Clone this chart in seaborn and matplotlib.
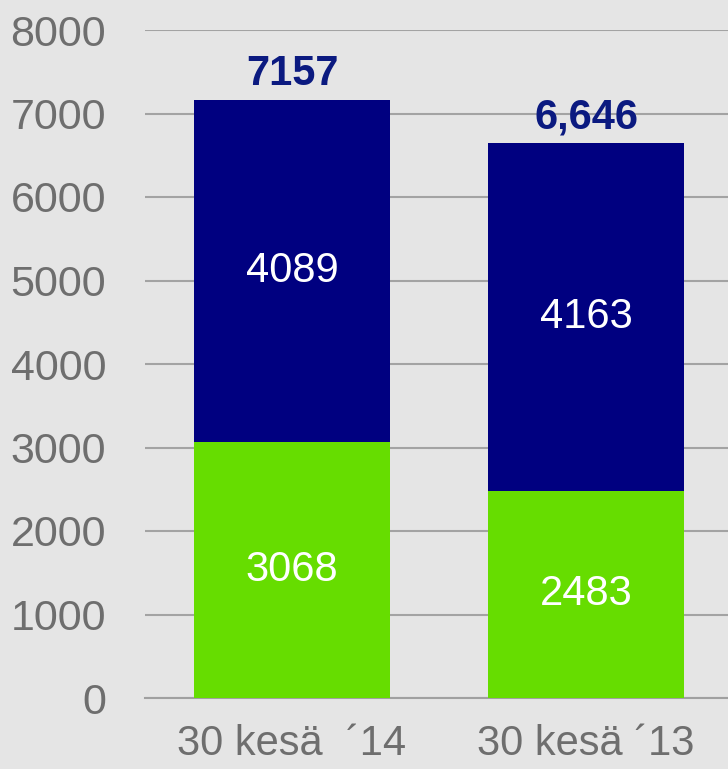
import numpy as np
import pandas as pd
import seaborn as sns
import matplotlib.pyplot as plt
from matplotlib.ticker import FixedLocator

sns.set_style("white")
plt.rcParams['font.family'] = ['Liberation Sans', 'DejaVu Sans']

categories = ["30 kesä  ´14", "30 kesä ´13"]
green_values = [3068, 2483]
navy_values = [4089, 4163]
total_labels = ["7157", "6,646"]

totals = [g + n for g, n in zip(green_values, navy_values)]
df = pd.DataFrame({"cat": categories, "green": green_values,
                   "navy": navy_values, "total": totals})

bg = "#e5e5e5"
grey = "#6e6e6e"
fig = plt.figure(figsize=(7.28, 7.69), dpi=100, facecolor=bg)
ax = fig.add_axes([145 / 728, 71 / 769, 588 / 728, 668 / 769])
ax.set_facecolor(bg)

# stacked look: full total in navy, green part drawn over it
sns.barplot(data=df, x="cat", y="total", color="#000080", saturation=1,
            width=0.67, linewidth=0, ax=ax, zorder=3)
sns.barplot(data=df, x="cat", y="green", color="#66dd00", saturation=1,
            width=0.67, linewidth=0, ax=ax, zorder=4)

ax.set_ylim(0, 8000)
ax.set_xlim(-0.5, 1.5)
ax.set_yticks(range(0, 8001, 1000))
ax.yaxis.grid(True, color="#a3a3a3", linewidth=1.5, zorder=0)
ax.set_axisbelow(True)

for s in ["left", "top", "right"]:
    ax.spines[s].set_visible(False)
ax.spines["bottom"].set_color("#a0a0a0")
ax.spines["bottom"].set_linewidth(1.5)

ax.tick_params(axis="y", length=0, pad=28, labelsize=31, labelcolor=grey)
ax.tick_params(axis="x", which="major", length=0, pad=19, labelsize=30,
               labelcolor=grey)
ax.xaxis.set_minor_locator(FixedLocator([-0.5, 0.5, 1.5]))
ax.tick_params(axis="x", which="minor", length=9, width=1.5, color="#a0a0a0")
ax.set_xlabel("")
ax.set_ylabel("")

for i in range(len(categories)):
    g = green_values[i]
    n = navy_values[i]
    ax.text(i, g / 2, str(g), ha="center", va="center", color="white",
            fontsize=30, zorder=5)
    ax.text(i, g + n / 2, str(n), ha="center", va="center", color="white",
            fontsize=30, zorder=5)
    ax.annotate(total_labels[i], (i, totals[i]), xytext=(0, 15),
                textcoords="offset pixels", ha="center", va="baseline",
                color="#0b1a80", fontsize=30, fontweight="bold", zorder=5)

plt.savefig("out.png", dpi=100, facecolor=bg)
